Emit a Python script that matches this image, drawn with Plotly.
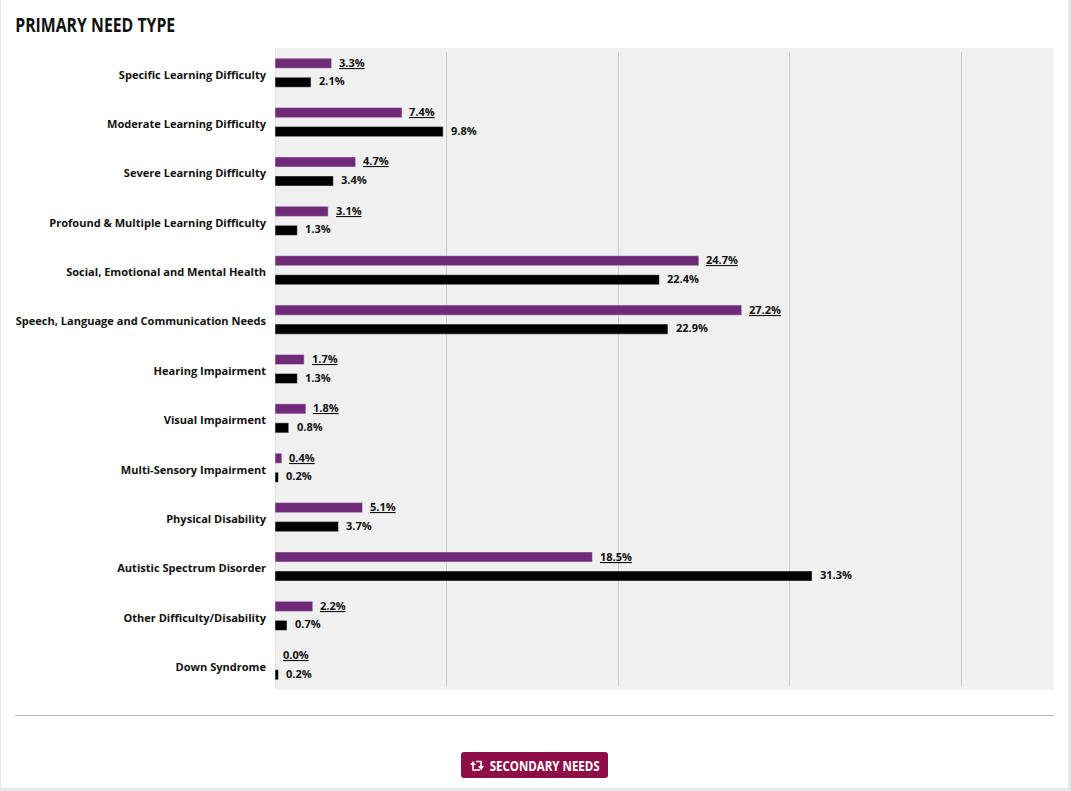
import plotly.graph_objects as go

W = 1071
H = 791

categories = [
    "Specific Learning Difficulty",
    "Moderate Learning Difficulty",
    "Severe Learning Difficulty",
    "Profound & Multiple Learning Difficulty",
    "Social, Emotional and Mental Health",
    "Speech, Language and Communication Needs",
    "Hearing Impairment",
    "Visual Impairment",
    "Multi-Sensory Impairment",
    "Physical Disability",
    "Autistic Spectrum Disorder",
    "Other Difficulty/Disability",
    "Down Syndrome",
]
purple_values = [3.3, 7.4, 4.7, 3.1, 24.7, 27.2, 1.7, 1.8, 0.4, 5.1, 18.5, 2.2, 0.0]
black_values = [2.1, 9.8, 3.4, 1.3, 22.4, 22.9, 1.3, 0.8, 0.2, 3.7, 31.3, 0.7, 0.2]

TITLE = "PRIMARY NEED TYPE"
BUTTON_TEXT = "SECONDARY NEEDS"

PURPLE = "#6f2b77"
BLACK = "#000000"
PANEL = "#f0f0f0"
GRID = "#cbcbcb"
EDGE = "#e3e8ec"
BUTTON = "#8e0f47"
LABEL_FONT = "Open Sans"


# pixel position -> paper fraction (margins are 0)
def px(x):
    return x / W


def py(y):
    return 1 - y / H


def pixel_path(points):
    return "M " + " L ".join(f"{px(x)} {py(y)}" for x, y in points)


def paper_rect(x0, y0, x1, y1, color):
    return dict(type="rect", xref="paper", yref="paper", x0=px(x0), x1=px(x1), y0=py(y1), y1=py(y0),
                fillcolor=color, line_width=0, layer="below")


def rounded_button(x0, y0, x1, y1, r):
    path = (f"M {px(x0 + r)} {py(y0)} L {px(x1 - r)} {py(y0)} Q {px(x1)} {py(y0)} {px(x1)} {py(y0 + r)} "
            f"L {px(x1)} {py(y1 - r)} Q {px(x1)} {py(y1)} {px(x1 - r)} {py(y1)} "
            f"L {px(x0 + r)} {py(y1)} Q {px(x0)} {py(y1)} {px(x0)} {py(y1 - r)} "
            f"L {px(x0)} {py(y0 + r)} Q {px(x0)} {py(y0)} {px(x0 + r)} {py(y0)} Z")
    return dict(type="path", xref="paper", yref="paper", path=path, fillcolor=BUTTON, line_width=0, layer="below")


fig = go.Figure()
fig.add_trace(go.Bar(y=categories, x=purple_values, orientation="h", marker_color=PURPLE, name="Purple"))
fig.add_trace(go.Bar(y=categories, x=black_values, orientation="h", marker_color=BLACK, name="Black"))

annotations = []
for cat, p, b in zip(categories, purple_values, black_values):
    annotations.append(dict(x=p, y=cat, xref="x", yref="y", text=f"{p:.1f}%", showarrow=False, xanchor="left",
                            xshift=5.5, yshift=10.5,
                            font=dict(family=LABEL_FONT, size=11, color="#111111", weight="bold", lineposition="under")))
    annotations.append(dict(x=b, y=cat, xref="x", yref="y", text=f"{b:.1f}%", showarrow=False, xanchor="left",
                            xshift=6, yshift=-8,
                            font=dict(family=LABEL_FONT, size=11, color="#111111", weight="bold")))

annotations.append(dict(x=px(95), y=py(24.5), xref="paper", yref="paper", text=TITLE, showarrow=False,
                        xanchor="center", yanchor="middle",
                        font=dict(family=LABEL_FONT, size=20, color="#111111", weight="bold")))
annotations.append(dict(x=px(544), y=py(765), xref="paper", yref="paper", text=BUTTON_TEXT, showarrow=False,
                        xanchor="center", yanchor="middle",
                        font=dict(family=LABEL_FONT, size=15, color="#ffffff", weight="bold")))

shapes = [
    paper_rect(275, 48, 1054, 690, PANEL),
    paper_rect(0, 0, 1, H, EDGE),
    paper_rect(1068, 0, W, H, EDGE),
    paper_rect(0, 788, W, H, EDGE),
    paper_rect(15, 715, 1054, 716, "#bdbdbd"),
    rounded_button(461, 752, 608, 778, 3),
    # retweet icon on the button
    dict(type="path", xref="paper", yref="paper", path=pixel_path([(473, 765), (473, 770), (480, 770)]),
         line=dict(color="white", width=1.6)),
    dict(type="path", xref="paper", yref="paper", path=pixel_path([(470, 765), (473, 761), (476, 765)]) + " Z",
         fillcolor="white", line_width=0),
    dict(type="path", xref="paper", yref="paper", path=pixel_path([(476, 761.5), (481, 761.5), (481, 766)]),
         line=dict(color="white", width=1.6)),
    dict(type="path", xref="paper", yref="paper", path=pixel_path([(478, 766), (481, 770.5), (484, 766)]) + " Z",
         fillcolor="white", line_width=0),
]

fig.update_layout(
    width=W,
    height=H,
    margin=dict(l=0, r=0, t=0, b=0),
    paper_bgcolor="white",
    plot_bgcolor="rgba(0,0,0,0)",
    showlegend=False,
    barmode="group",
    bargap=0.23,
    bargroupgap=0.47,
    shapes=shapes,
    annotations=annotations,
    xaxis=dict(domain=[px(275), px(1054)], range=[0, 45.4], dtick=10, showticklabels=False, ticks="",
               showgrid=True, gridcolor=GRID, gridwidth=1, zeroline=True, zerolinecolor="#e0e0e0", zerolinewidth=1),
    yaxis=dict(domain=[py(686), py(52)], range=[12.42, -0.42], type="category", ticks="", showgrid=False,
               ticklabelstandoff=8, ticklabelshift=-2,
               tickfont=dict(family=LABEL_FONT, size=11.05, color="#111111", weight="bold")),
)

# no condensed bold font is installed, so squeeze the two headings to their reference widths
squeeze = """
document.body.style.margin = '0';
var widths = {'%s': 160, '%s': 110};
document.querySelectorAll('.annotation-text').forEach(function (el) {
    var w = widths[el.textContent];
    if (w) {
        el.setAttribute('textLength', w);
        el.setAttribute('lengthAdjust', 'spacingAndGlyphs');
    }
});
""" % (TITLE, BUTTON_TEXT)

fig.write_html("out.html", config=dict(displayModeBar=False), post_script=squeeze)
